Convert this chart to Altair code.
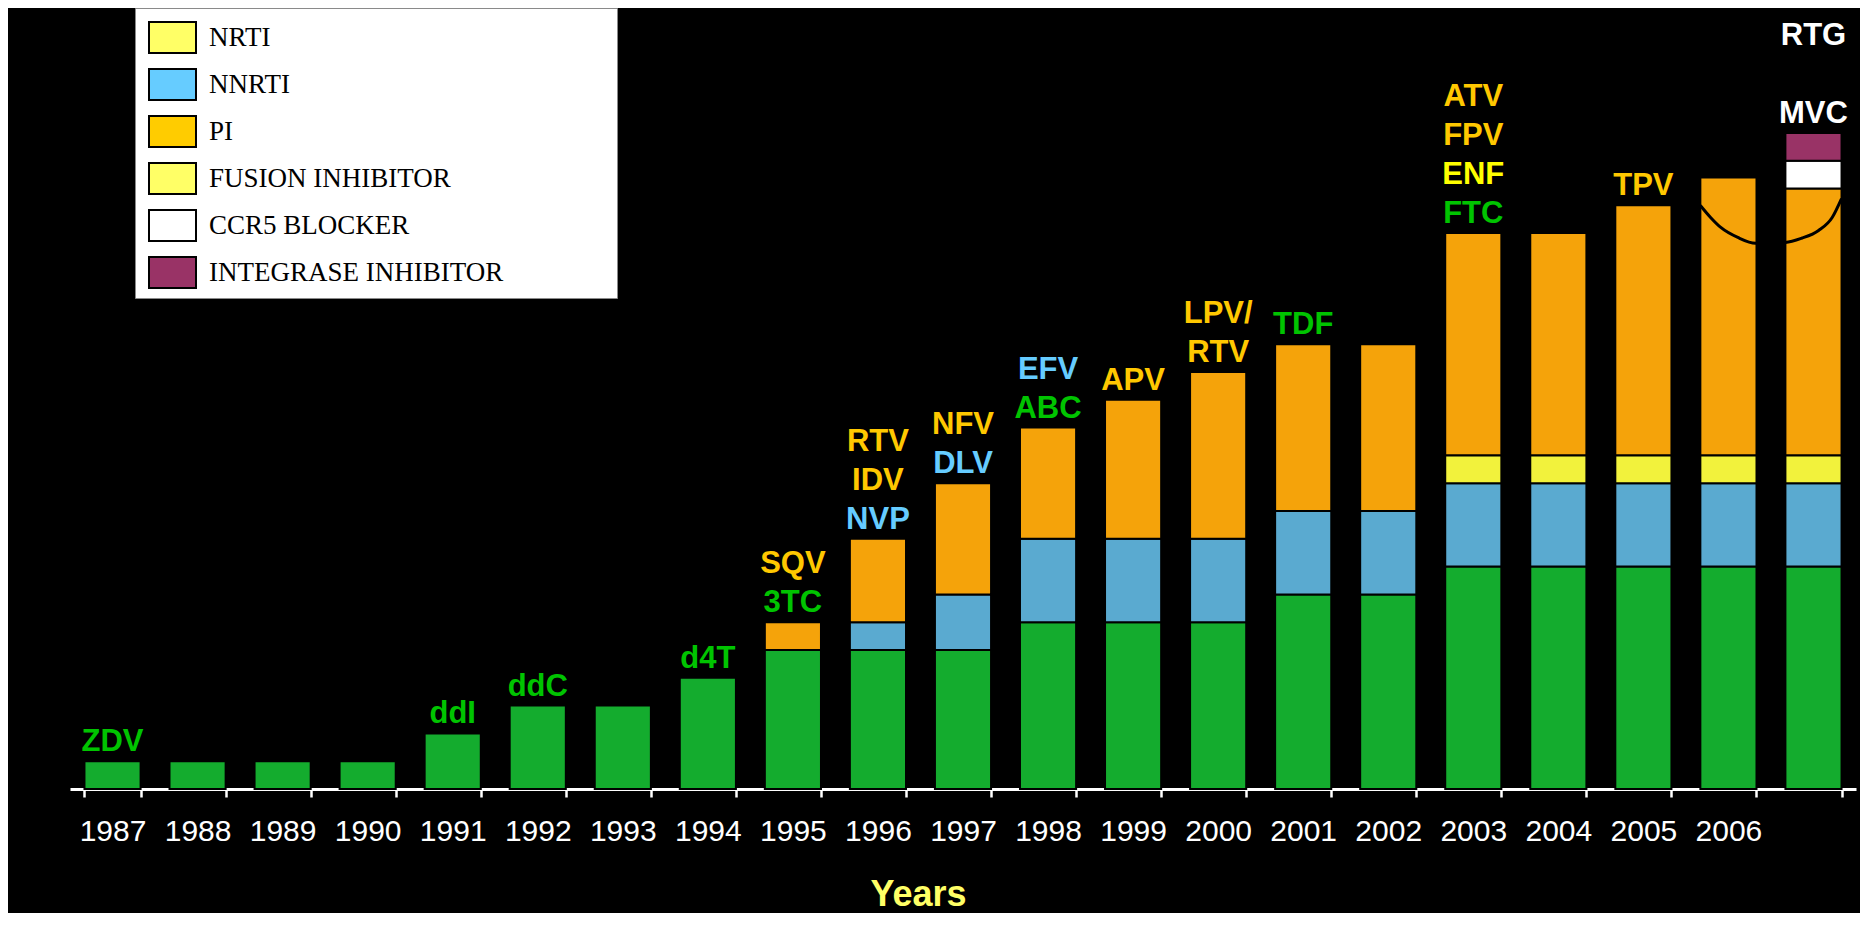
import altair as alt
import pandas as pd

# ---------------- data ----------------
years = ['1987', '1988', '1989', '1990', '1991', '1992', '1993', '1994', '1995', '1996', '1997',
         '1998', '1999', '2000', '2001', '2002', '2003', '2004', '2005', '2006', '2007']
year_labels_hidden = ['2007']

nrti      = [1, 1, 1, 1, 2, 3, 3, 4, 5, 5, 5, 6, 6, 6, 7, 7, 8, 8, 8, 8, 8]
nnrti     = [0, 0, 0, 0, 0, 0, 0, 0, 0, 1, 2, 3, 3, 3, 3, 3, 3, 3, 3, 3, 3]
fusion    = [0, 0, 0, 0, 0, 0, 0, 0, 0, 0, 0, 0, 0, 0, 0, 0, 1, 1, 1, 1, 1]
pi        = [0, 0, 0, 0, 0, 0, 0, 0, 1, 3, 4, 4, 5, 6, 6, 6, 8, 8, 9, 10, 9.6]
ccr5      = [0, 0, 0, 0, 0, 0, 0, 0, 0, 0, 0, 0, 0, 0, 0, 0, 0, 0, 0, 0, 1]
integrase = [0, 0, 0, 0, 0, 0, 0, 0, 0, 0, 0, 0, 0, 0, 0, 0, 0, 0, 0, 0, 1]

classes = ['NRTI', 'NNRTI', 'PI', 'FUSION INHIBITOR', 'CCR5 BLOCKER', 'INTEGRASE INHIBITOR']
stack_order = ['NRTI', 'NNRTI', 'FUSION INHIBITOR', 'PI', 'CCR5 BLOCKER', 'INTEGRASE INHIBITOR']
series = {'NRTI': nrti, 'NNRTI': nnrti, 'PI': pi, 'FUSION INHIBITOR': fusion,
          'CCR5 BLOCKER': ccr5, 'INTEGRASE INHIBITOR': integrase}

bar_colors    = ['#14ac2e', '#5aaad0', '#f5a30a', '#f2f23c', '#ffffff', '#993366']
legend_colors = ['#ffff66', '#66ccff', '#ffcc00', '#ffff66', '#ffffff', '#993366']
text_colors   = ['#00c400', '#66ccff', '#ffc800', '#ffff00', '#ffffff', '#ffffff']

label_year  = ['1987', '1991', '1992', '1994', '1995', '1995', '1996', '1996', '1996', '1997', '1997',
               '1998', '1998', '1999', '2000', '2000', '2001', '2003', '2003', '2003', '2003', '2005',
               '2007', '2007']
label_text  = ['ZDV', 'ddI', 'ddC', 'd4T', '3TC', 'SQV', 'NVP', 'IDV', 'RTV', 'DLV', 'NFV',
               'ABC', 'EFV', 'APV', 'RTV', 'LPV/', 'TDF', 'FTC', 'ENF', 'FPV', 'ATV', 'TPV',
               'MVC', 'RTG']
label_class = ['NRTI', 'NRTI', 'NRTI', 'NRTI', 'NRTI', 'PI', 'NNRTI', 'PI', 'PI', 'NNRTI', 'PI',
               'NRTI', 'NNRTI', 'PI', 'PI', 'PI', 'NRTI', 'NRTI', 'FUSION INHIBITOR', 'PI', 'PI', 'PI',
               'CCR5 BLOCKER', 'INTEGRASE INHIBITOR']
label_line  = [0, 0, 0, 0, 0, 1, 0, 1, 2, 0, 1, 0, 1, 0, 0, 1, 0, 0, 1, 2, 3, 0, 0, 2]

# curve drawn across the 2006 / 2007 bars (band units, values)
arc_x = [19.17, 19.29, 19.41, 19.61, 19.82, 20.17, 20.36, 20.56, 20.72, 20.83]
arc_y = [20.99, 20.56, 20.20, 19.84, 19.63, 19.66, 19.81, 20.09, 20.56, 21.24]

# ---------------- tables ----------------
rows = []
for cls in classes:
    for yr, v in zip(years, series[cls]):
        if v > 0:
            rows.append({'year': yr, 'cls': cls, 'value': v, 'ord': stack_order.index(cls)})
bars_df = pd.DataFrame(rows)

totals = {yr: sum(series[c][i] for c in classes) for i, yr in enumerate(years)}
labels_df = pd.DataFrame({'year': label_year, 'text': label_text, 'cls': label_class,
                          'line': label_line, 'top': [totals[y] for y in label_year]})
legend_df = pd.DataFrame({'cls': classes, 'year': ['1987'] * len(classes), 'v': [0] * len(classes)})
arc_df = pd.DataFrame({'ax': arc_x, 'ay': arc_y})

W, H = 1786, 695
GAP, LINE = 10, 39
SANS = 'Liberation Sans, Arial, Helvetica, sans-serif'
SERIF = 'Liberation Serif, Times New Roman, serif'

x_scale = alt.Scale(type='band', domain=years, paddingInner=0.34, paddingOuter=0.17)
y_scale = alt.Scale(domain=[0, 25], nice=False, zero=True)

x_axis = alt.Axis(
    title='Years', tickBand='extent', labelAngle=0,
    labelExpr="indexof(" + str(year_labels_hidden).replace("'", '"') + ", datum.value) >= 0 ? '' : datum.label",
    domainColor='white', domainWidth=3, tickColor='white', tickWidth=2.5, tickSize=8,
    labelPadding=19, labelFont=SANS, labelFontSize=30, labelColor='white',
    titleFont=SANS, titleFontWeight='bold', titleFontSize=36, titleColor='#ffff66',
    titleX=848, titleY=116, titleBaseline='alphabetic', titleAlign='center', grid=False,
)
y_axis = alt.Axis(
    title=None, values=[0, 5, 10, 15, 20, 25], grid=False,
    domainColor='white', domainWidth=2.5, tickColor='white', tickWidth=2, tickSize=9,
    labelPadding=4, labelFont=SANS, labelFontWeight='bold', labelFontSize=33, labelColor='white',
)

bars = alt.Chart(bars_df).mark_bar(stroke='black', strokeWidth=2).encode(
    x=alt.X('year:N', scale=x_scale, axis=x_axis, sort=years),
    y=alt.Y('value:Q', stack='zero', scale=y_scale, axis=y_axis),
    color=alt.Color('cls:N', scale=alt.Scale(domain=classes, range=bar_colors), legend=None),
    order=alt.Order('ord:Q', sort='ascending'),
)

# non-breaking spaces keep the white legend box as wide as in the original
pad = '\u00a0' * 16 + '\u200b'
legend_layer = alt.Chart(legend_df).mark_bar().encode(
    x=alt.X('year:N', scale=x_scale, axis=None),
    y=alt.Y('v:Q', scale=y_scale, axis=None),
    y2='v',
    color=alt.Color('cls:N', scale=alt.Scale(domain=classes, range=legend_colors),
                    legend=alt.Legend(
                        title=None, orient='none', legendX=65, legendY=-86, direction='vertical',
                        fillColor='white', strokeColor='#8a8a8a', padding=5,
                        symbolType='M-1,-0.66H1V0.66H-1Z', symbolSize=2209,
                        symbolStrokeColor='black', symbolStrokeWidth=2, symbolOpacity=1,
                        symbolOffset=8, labelOffset=12, rowPadding=2,
                        labelFont=SERIF, labelFontSize=27, labelColor='black', labelLimit=800,
                        labelExpr="datum.label + '" + pad + "'",
                    )),
)

text_layers = []
for ln in sorted(set(label_line)):
    text_layers.append(
        alt.Chart(labels_df).transform_filter(alt.datum.line == ln).mark_text(
            font=SANS, fontWeight='bold', fontSize=31, align='center', baseline='alphabetic',
            dy=-(GAP + LINE * ln),
        ).encode(
            x=alt.X('year:N', scale=x_scale, axis=None),
            y=alt.Y('top:Q', scale=y_scale, axis=None),
            text='text:N',
            color=alt.Color('cls:N', scale=alt.Scale(domain=classes, range=text_colors), legend=None),
        )
    )

arc = alt.Chart(arc_df).mark_line(color='black', strokeWidth=3, interpolate='monotone').encode(
    x=alt.X('ax:Q', scale=alt.Scale(domain=[0, len(years)], nice=False, zero=False), axis=None),
    y=alt.Y('ay:Q', scale=y_scale, axis=None),
    order='ax:Q',
)

chart = alt.layer(bars, arc, legend_layer, *text_layers).resolve_scale(
    x='independent', color='independent'
).properties(
    width=W, height=H,
    padding={'left': 62, 'top': 86, 'right': 4, 'bottom': 124},
    autosize=alt.AutoSizeParams(type='none'),
).configure(background='black').configure_view(strokeWidth=0)

chart.save('out.html', embed_options={'renderer': 'svg', 'actions': False})
